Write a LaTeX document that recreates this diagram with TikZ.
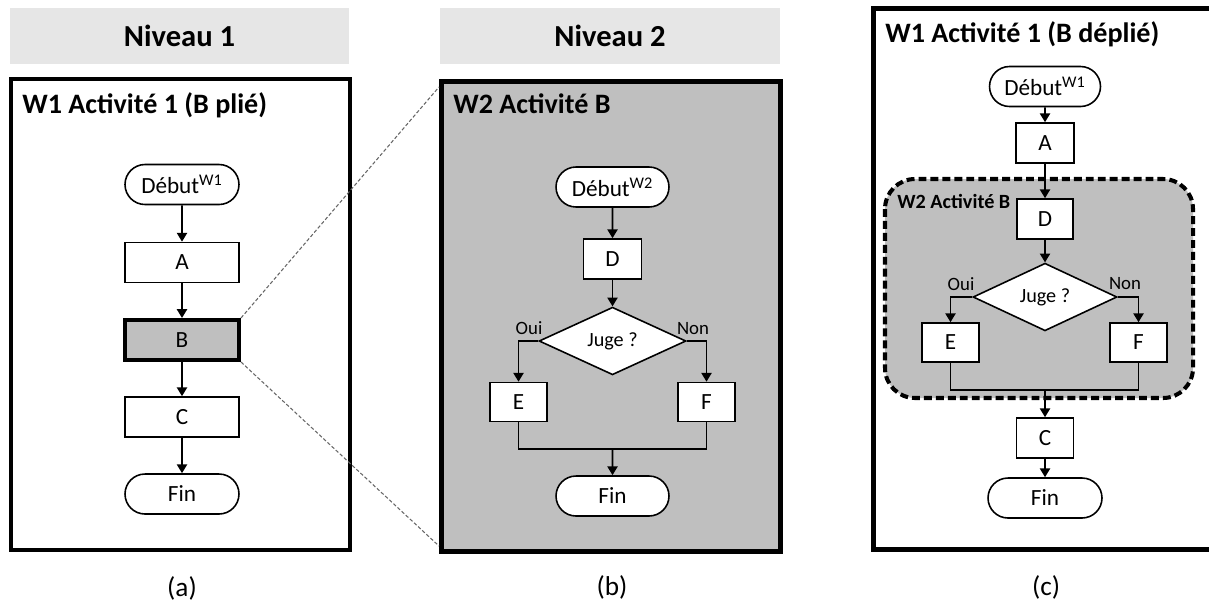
\documentclass[tikz,border=0pt]{standalone}
\usepackage{fontspec}
\setmainfont{Carlito}
\usetikzlibrary{shapes.misc,shapes.geometric,arrows.meta,calc}
\definecolor{hdr}{HTML}{E6E6E6}
\definecolor{shade}{HTML}{BFBFBF}
\begin{document}
\begin{tikzpicture}[x=0.02cm,y=-0.02cm,
  every node/.style={font=\fontsize{13.2}{15}\selectfont, text=black},
  base/.style={draw, line width=0.9pt, fill=white, inner sep=0pt},
  term/.style={base, rounded rectangle, minimum width=2.28cm, minimum height=0.8cm},
  proc/.style={base, rectangle, minimum width=1.16cm, minimum height=0.8cm},
  wproc/.style={proc, minimum width=2.28cm},
  dec/.style={base, diamond, minimum width=2.94cm, minimum height=1.12cm, font=\fontsize{11.5}{13}\selectfont},
  arr/.style={-{Triangle[length=5pt,width=5.7pt]}, line width=1.1pt},
  lin/.style={line width=1.1pt},
  frame/.style={draw, line width=2.4pt},
  hdrbox/.style={fill=hdr, draw=none, inner sep=0pt, minimum width=6.78cm, minimum height=1.12cm, font=\fontsize{17.4}{20}\selectfont\bfseries},
  title/.style={anchor=base west, inner sep=0pt, font=\fontsize{16}{19}\selectfont\bfseries},
  stitle/.style={anchor=base west, inner sep=0pt, font=\fontsize{11.5}{13}\selectfont\bfseries},
  lbl/.style={inner sep=0pt, font=\fontsize{10.7}{12}\selectfont},
  captxt/.style={inner sep=0pt, font=\fontsize{15.5}{18}\selectfont},
  zoomln/.style={draw=black!60, line width=0.6pt, dash pattern=on 2pt off 1.2pt}
]
\useasboundingbox (0,0) rectangle (1209,603);

% ---------- headers ----------
\node[hdrbox] (h1) at (179.5,36) {Niveau 1};
\node[hdrbox, minimum width=6.8cm] (h2) at (610,36) {Niveau 2};

% ---------- frames ----------
\draw[frame] (11,79) rectangle (350,550);
\draw[frame, fill=shade] (441.5,81.5) rectangle (780.5,551.5);
\draw[frame] (1230,8.5) -- (873.5,8.5) -- (873.5,549.5) -- (1230,549.5);
\draw[line width=2.3pt, dash pattern=on 4.5pt off 2.3pt, fill=shade, rounded corners=0.6cm]
  (885,179) rectangle (1193,398);

% ---------- titles ----------
\node[title] (t1) at (22,113) {W1 Activité 1 (B plié)};
\node[title] (t2) at (453,113) {W2 Activité B};
\node[title] (t3) at (885,42) {W1 Activité 1 (B déplié)};
\node[stitle] (t4) at (897,208) {W2 Activité B};

% ---------- panel (a) ----------
\node[term] (s1) at (182,184.5) {Début\textsuperscript{W1}};
\node[wproc] (a1) at (182,262.5) {A};
\node[wproc, fill=shade, line width=2.3pt] (b1) at (182,340) {B};
\node[wproc] (c1) at (182,417) {C};
\node[term] (f1) at (182,494) {Fin};
\draw[arr] (s1) -- (a1);
\draw[arr] (a1) -- (b1);
\draw[arr] (b1) -- (c1);
\draw[arr] (c1) -- (f1);

% zoom lines
\coordinate (zt) at (439,87);
\coordinate (zb) at (439,546);
\draw[zoomln] (b1.north east) -- (zt);
\draw[zoomln] (b1.south east) -- (zb);

% ---------- panel (b) ----------
\node[term, minimum width=2.26cm] (s2) at (612.5,187) {Début\textsuperscript{W2}};
\node[proc] (d2) at (612.5,259) {D};
\node[dec] (j2) at (612.5,341) {Juge ?};
\node[proc, minimum width=1.14cm, minimum height=0.78cm] (e2) at (518.5,402) {E};
\node[proc, minimum width=1.14cm, minimum height=0.78cm] (f2) at (706.5,402) {F};
\coordinate (m2) at (612.5,449);
\node[term, minimum width=2.26cm] (fin2) at (612.5,496) {Fin};
\node[lbl] (oui2) at (529,328.5) {Oui};
\node[lbl] (non2) at (693,328.5) {Non};
\draw[arr] (s2) -- (d2);
\draw[arr] (d2) -- (j2);
\draw[arr] (j2.west) -| (e2.north);
\draw[arr] (j2.east) -| (f2.north);
\draw[lin] (e2.south) |- (m2) -| (f2.south);
\draw[arr] (m2) -- (fin2);

% ---------- panel (c) ----------
\node[term, minimum width=2.22cm] (s3) at (1045,86.5) {Début\textsuperscript{W1}};
\node[proc] (a3) at (1045,143) {A};
\node[proc, minimum width=1.12cm] (d3) at (1045,219) {D};
\node[dec, minimum width=2.88cm] (j3) at (1045,297) {Juge ?};
\node[proc, minimum width=1.14cm, minimum height=0.78cm] (e3) at (950.5,342.5) {E};
\node[proc, minimum width=1.14cm, minimum height=0.78cm] (f3) at (1138.5,342.5) {F};
\coordinate (m3) at (1045,390);
\node[proc, minimum width=1.14cm] (c3) at (1045,438) {C};
\node[term] (fin3) at (1045,498) {Fin};
\node[lbl] (oui3) at (961,284) {Oui};
\node[lbl] (non3) at (1125,284) {Non};
\draw[arr] (s3) -- (a3);
\draw[arr] (a3) -- (d3);
\draw[arr] (d3) -- (j3);
\draw[arr] (j3.west) -| (e3.north);
\draw[arr] (j3.east) -| (f3.north);
\draw[lin] (e3.south) |- (m3) -| (f3.south);
\draw[arr] (m3) -- (c3);
\draw[arr] (c3) -- (fin3);

% ---------- captions ----------
\node[captxt] (ca) at (182,588) {(a)};
\node[captxt] (cb) at (612,587) {(b)};
\node[captxt] (cc) at (1046,587) {(c)};
\end{tikzpicture}
\end{document}
